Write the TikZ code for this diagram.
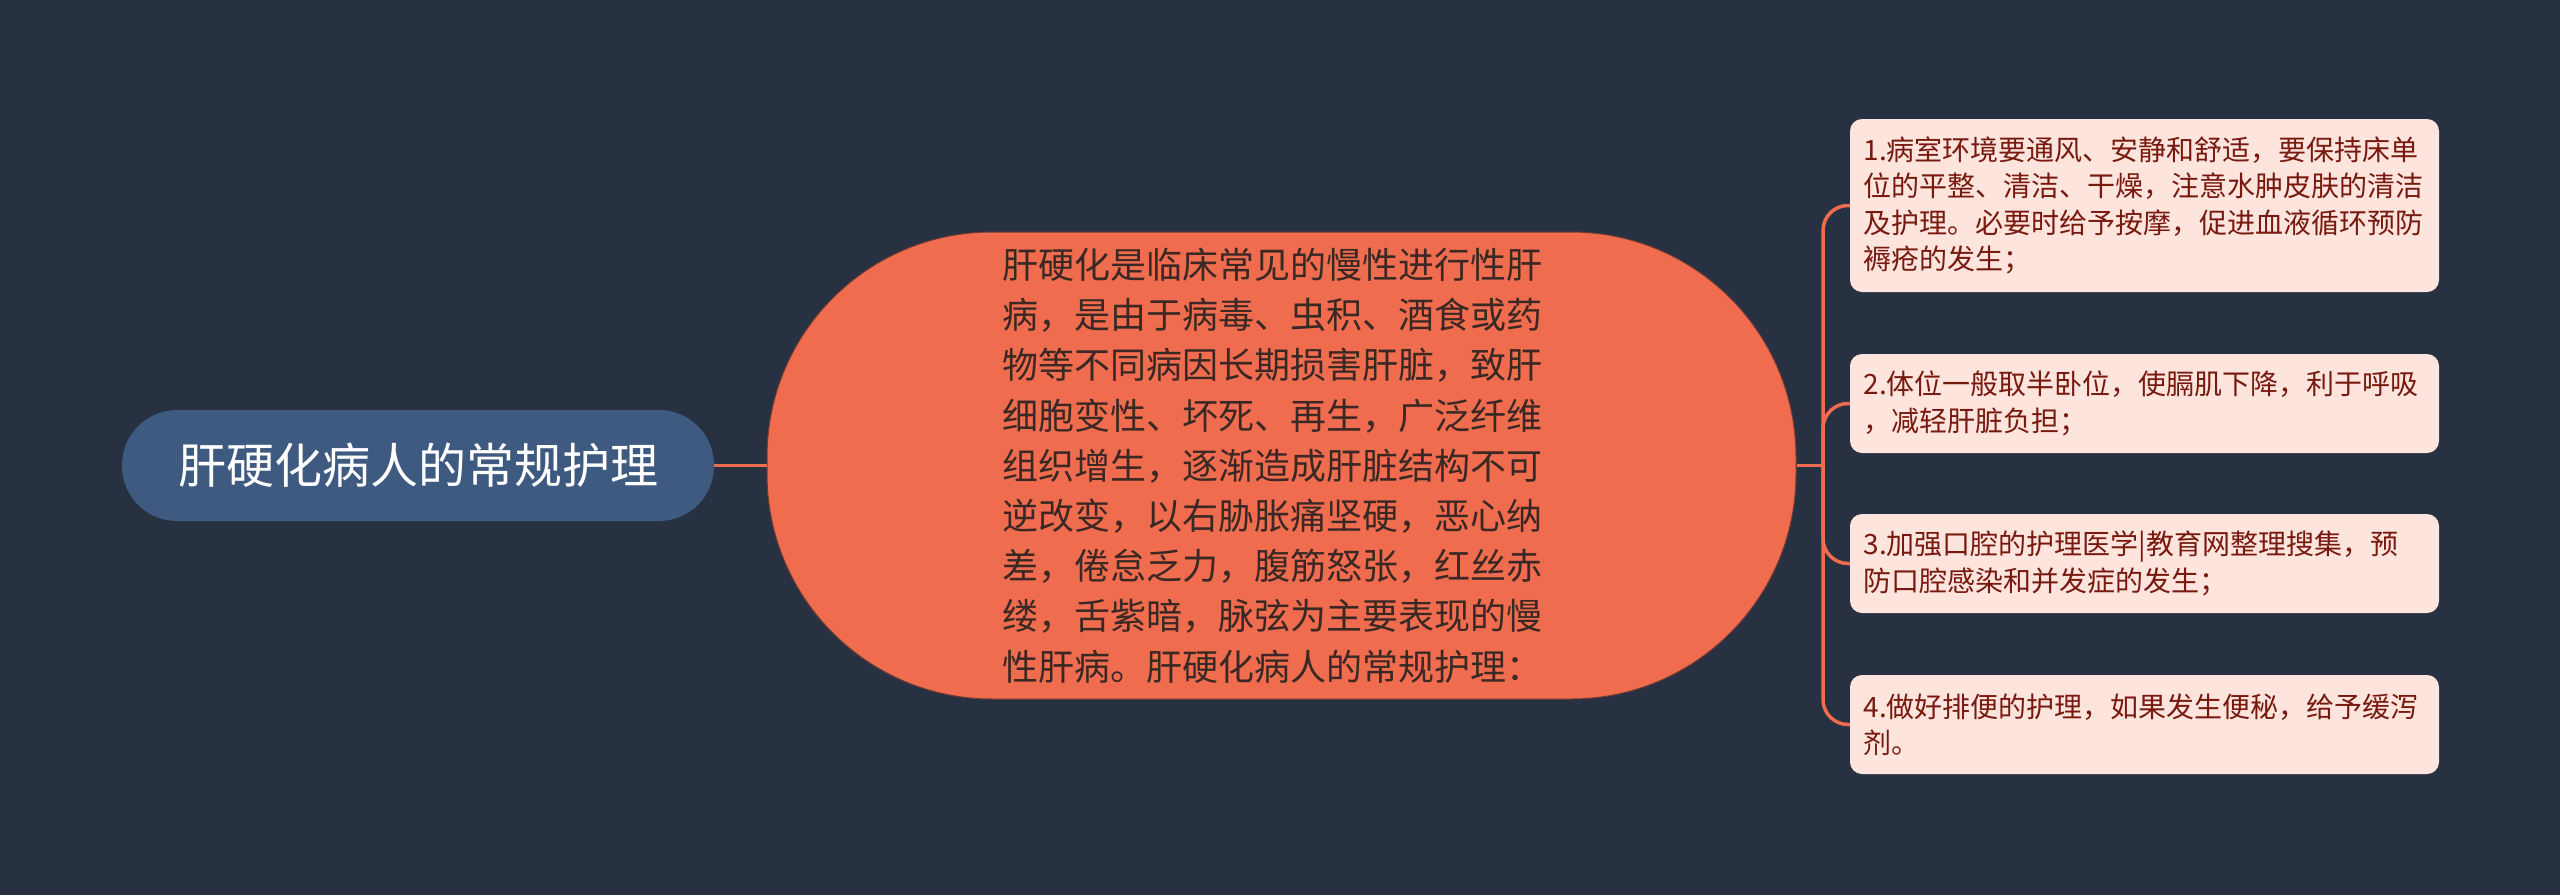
\documentclass[tikz,border=0pt]{standalone}
\usepackage{fontspec}
\setmainfont{Noto Sans CJK SC}
\definecolor{bgnavy}{HTML}{283142}
\definecolor{rootblue}{HTML}{3E5A80}
\definecolor{coreorange}{HTML}{EF6C4E}
\definecolor{coretext}{HTML}{3A2824}
\definecolor{leafpink}{HTML}{FDE4DC}
\definecolor{leaftext}{HTML}{78190F}
\tikzset{
  link/.style={line width=3.5pt,coreorange},
  rootbox/.style={fill=rootblue,text=white,rounded corners=55pt,
    minimum width=592pt,minimum height=111pt,inner sep=0pt,
    font=\fontsize{48pt}{56pt}\selectfont},
  corebox/.style={fill=coreorange,draw=coretext!70!coreorange,line width=1pt,
    text=coretext,rounded corners=225pt,minimum width=1029pt,minimum height=467pt,
    text width=559pt,align=left,inner sep=0pt,
    font=\fontsize{36pt}{50.2pt}\selectfont},
  leafbox/.style={fill=leafpink,text=leaftext,rounded corners=12pt,
    minimum width=589pt,text width=562pt,align=left,inner xsep=13.5pt,inner ysep=0pt,
    font=\fontsize{28pt}{36.5pt}\selectfont},
}
\begin{document}
\begin{tikzpicture}[x=1pt,y=-1pt]
  % BACKGROUND
  \fill[bgnavy] (0,0) rectangle (2560,895);
  \useasboundingbox (0,0) rectangle (2560,895);

  % ROOT AND CORE
  \node[rootbox] (root) at (418,465.5) {肝硬化病人的常规护理};
  \node[corebox] (core) at (1281.5,465.5) {%
    肝硬化是临床常见的慢性进行性肝\\
    病，是由于病毒、虫积、酒食或药\\
    物等不同病因长期损害肝脏，致肝\\
    细胞变性、坏死、再生，广泛纤维\\
    组织增生，逐渐造成肝脏结构不可\\
    逆改变，以右胁胀痛坚硬，恶心纳\\
    差，倦怠乏力，腹筋怒张，红丝赤\\
    缕，舌紫暗，脉弦为主要表现的慢\\
    性肝病。肝硬化病人的常规护理：};

  % LEAVES
  \node[leafbox,minimum height=173pt] (leaf1) at (2144.5,205.5) {%
    1.病室环境要通风、安静和舒适，要保持床单\\
    位的平整、清洁、干燥，注意水肿皮肤的清洁\\
    及护理。必要时给予按摩，促进血液循环预防\\
    褥疮的发生；};
  \node[leafbox,minimum height=99pt] (leaf2) at (2144.5,403.5) {%
    2.体位一般取半卧位，使膈肌下降，利于呼吸\\
    ，减轻肝脏负担；};
  \node[leafbox,minimum height=99pt] (leaf3) at (2144.5,563.5) {%
    3.加强口腔的护理医学|教育网整理搜集，预\\
    防口腔感染和并发症的发生；};
  \node[leafbox,minimum height=99pt] (leaf4) at (2144.5,724.5) {%
    4.做好排便的护理，如果发生便秘，给予缓泻\\
    剂。};

  % LINKS
  \coordinate (fork) at (1823,465.5);
  \draw[link] (root) -- (core);
  \draw[link] (core.east) -- (fork);
  \foreach \i in {1,...,4}
    \draw[link,rounded corners=25pt] (fork) |- (leaf\i.west);
\end{tikzpicture}
\end{document}
